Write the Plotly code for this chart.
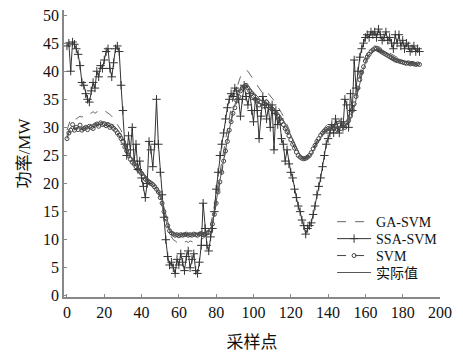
import plotly.graph_objects as go

x_vals = list(range(190))

actual = [
    28.5, 29.5, 30.0, 30.2, 30.0, 29.8, 30.0, 30.1, 29.9, 30.0,
    30.2, 30.0, 30.3, 30.5, 30.4, 30.6, 30.8, 30.7, 30.9, 31.0,
    31.0, 30.9, 30.8, 30.6, 30.5, 30.2, 30.0, 29.6, 29.2, 28.8,
    28.0, 27.2, 26.3, 25.5, 24.8, 24.2, 23.8, 23.3, 23.0, 22.6,
    22.2, 21.8, 21.3, 21.0, 20.7, 20.5, 20.3, 20.0, 19.5, 19.0,
    18.0, 17.0, 15.8, 14.5, 13.0, 12.0, 11.5, 11.2, 11.0, 11.0,
    10.9, 11.0, 10.9, 11.0, 11.1, 11.0, 10.9, 11.0, 11.0, 11.1,
    11.0, 11.0, 11.2, 11.0, 11.1, 11.3, 11.5, 12.0, 13.0, 15.0,
    17.0, 18.8, 20.6, 22.4, 24.2, 26.0, 28.0, 30.0, 31.5, 33.0,
    34.0, 35.0, 36.0, 36.8, 37.2, 37.5, 37.6, 37.4, 37.0, 36.6,
    36.2, 35.8, 35.5, 35.0, 34.8, 34.5, 34.8, 35.0, 34.6, 34.2,
    34.0, 33.6, 33.2, 32.8, 32.3, 31.8, 31.3, 30.7, 30.0, 29.3,
    28.6, 27.8, 27.0, 26.3, 25.6, 25.1, 24.8, 24.6, 24.5, 24.6,
    24.8, 25.2, 25.8, 26.5, 27.2, 27.8, 28.3, 28.8, 29.2, 29.5,
    29.8, 30.0, 30.0, 30.1, 30.0, 30.0, 30.1, 30.0, 30.2, 30.3,
    30.5, 31.0, 31.6, 32.5, 33.5, 35.0, 36.5, 38.0, 39.3, 40.5,
    41.5, 42.3, 42.9, 43.3, 43.6, 43.8, 43.9, 43.9, 43.8, 43.6,
    43.4, 43.2, 43.0, 42.8, 42.6, 42.4, 42.2, 42.0, 41.9, 41.8,
    41.7, 41.6, 41.5, 41.5, 41.4, 41.4, 41.4, 41.3, 41.3, 41.3,
]

ga_svm = [
    29.5, 30.5, 31.5, 31.8, 31.5, 31.5, 31.8, 32.0, 31.8, 32.0,
    32.2, 32.5, 32.3, 32.6, 32.8, 32.5, 32.8, 33.0, 32.8, 33.0,
    33.0, 32.8, 32.5, 32.3, 32.0, 31.5, 31.0, 30.5, 30.0, 29.5,
    28.5, 27.5, 26.5, 25.8, 25.0, 24.5, 24.0, 23.5, 23.0, 22.5,
    22.0, 21.5, 21.0, 20.6, 20.3, 20.0, 19.8, 19.5, 19.0, 18.3,
    17.2, 16.0, 14.8, 13.5, 12.0, 11.0, 10.5, 10.0, 9.8, 9.5,
    9.6, 9.5, 9.8, 9.6, 9.7, 9.5, 9.8, 9.6, 9.5, 9.8,
    9.7, 9.8, 10.0, 10.2, 10.5, 11.0, 11.5, 12.5, 14.0, 16.0,
    18.0, 20.0, 22.0, 24.0, 26.0, 28.0, 30.0, 32.0, 33.5, 35.0,
    36.0, 37.0, 38.0, 39.0, 39.5, 40.0, 40.2, 40.0, 39.5, 39.0,
    38.5, 38.0, 37.5, 37.0, 36.5, 36.0, 36.3, 36.5, 36.0, 35.5,
    35.2, 34.8, 34.3, 33.8, 33.2, 32.6, 32.0, 31.3, 30.5, 29.7,
    28.8, 27.9, 27.0, 26.2, 25.5, 25.0, 24.7, 24.5, 24.5, 24.7,
    25.0, 25.5, 26.2, 27.0, 27.8, 28.5, 29.0, 29.5, 30.0, 30.3,
    30.6, 30.8, 31.0, 31.0, 31.2, 31.0, 31.2, 31.3, 31.5, 31.8,
    32.0, 32.5, 33.2, 34.0, 35.0, 36.5, 38.0, 39.5, 40.8, 41.8,
    42.6, 43.3, 43.8, 44.2, 44.4, 44.5, 44.5, 44.4, 44.2, 44.0,
    43.8, 43.6, 43.4, 43.2, 43.0, 42.8, 42.6, 42.4, 42.2, 42.0,
    41.9, 41.8, 41.7, 41.6, 41.6, 41.5, 41.5, 41.5, 41.4, 41.4,
]

ssa_svm = [
    44.5, 45.0, 40.0, 45.2, 44.8, 44.0, 43.0, 41.0, 38.0, 37.5,
    36.0, 35.0, 34.5, 36.5, 38.0, 37.0, 40.0, 39.0, 41.0, 40.5,
    42.0, 43.5, 44.0, 40.5, 39.0, 41.5, 44.0, 44.5, 43.5, 37.5,
    33.0, 27.0, 25.0, 28.5, 26.0, 30.0, 24.0, 27.0, 22.5, 24.0,
    21.0, 19.5, 17.5, 20.0, 27.5, 26.0, 23.0, 27.0, 35.0, 27.0,
    22.0, 18.0, 14.0, 10.0, 7.0, 5.5, 6.0, 5.0, 4.0, 6.5,
    5.5, 7.5, 6.0, 4.5, 7.0, 8.0, 5.0, 6.5, 7.5, 4.5,
    4.0, 6.0, 9.0, 16.5, 12.0, 9.0, 8.0, 10.5, 12.0, 15.0,
    19.0, 22.0, 25.0, 27.0, 29.0, 31.5, 33.5, 35.0, 36.0, 35.5,
    37.0, 36.5, 35.0, 32.0, 35.0, 37.5, 35.5, 34.0, 36.0, 33.0,
    31.0, 35.0, 33.0, 28.0, 32.0, 35.5, 34.0, 31.5, 33.5, 30.0,
    34.0, 26.0, 33.0, 30.5, 31.5, 28.0, 27.0, 24.0, 26.0, 23.5,
    22.0, 21.0, 19.0, 17.5, 16.0, 15.0, 13.5, 12.5, 11.0, 12.0,
    12.5, 13.0, 14.5, 16.0, 18.0, 19.5, 21.0, 23.0, 25.0, 27.0,
    28.0, 29.0, 30.5, 29.0, 31.5, 30.0, 29.0, 31.0, 30.0, 35.0,
    34.0, 30.0, 36.0, 33.0, 42.0, 37.0, 40.0, 42.5, 44.0, 45.0,
    46.0, 46.5, 46.0, 47.0, 46.5, 47.0, 46.0, 47.5, 46.5, 45.5,
    46.0, 47.0, 45.5, 46.0, 45.0, 44.0, 46.5, 45.0, 46.5, 44.5,
    45.5, 44.0, 45.0, 44.5, 43.5, 44.0, 44.5, 43.5, 44.0, 43.5,
]

svm = [
    28.0, 29.0, 29.5, 30.5, 29.5, 30.0, 29.6, 30.4, 29.5, 29.8,
    30.0, 29.6, 30.2, 30.0, 29.8, 30.4, 30.6, 30.2, 30.8, 30.5,
    30.6, 30.3, 30.5, 30.0, 30.2, 29.8, 29.5, 29.0, 28.6, 28.0,
    27.5, 26.5, 25.8, 25.0, 24.3, 23.8, 23.5, 23.0, 22.5, 22.2,
    21.8, 21.2, 20.8, 20.5, 20.2, 20.0, 19.8, 19.4, 19.0, 18.5,
    17.5, 16.5, 15.0, 13.8, 12.5, 11.6, 11.2, 11.0, 10.8, 10.9,
    10.7, 10.9, 10.8, 10.9, 11.0, 10.8, 10.9, 10.8, 11.0, 10.9,
    10.8, 11.0, 11.1, 10.9, 11.0, 11.2, 11.3, 11.7, 12.8, 14.5,
    16.5, 18.5, 20.3, 22.0, 24.0, 25.8, 27.5, 29.5, 31.0, 32.5,
    33.5, 34.8, 35.5, 36.5, 37.0, 37.2, 37.5, 37.0, 36.5, 36.0,
    35.5, 35.0, 34.8, 34.0, 34.5, 33.8, 34.2, 34.5, 33.8, 33.5,
    33.2, 32.8, 32.5, 32.0, 31.5, 31.0, 30.5, 29.8, 29.2, 28.5,
    27.8, 27.0, 26.3, 25.6, 25.0, 24.7, 24.5, 24.4, 24.5, 24.7,
    25.0, 25.5, 26.2, 26.8, 27.5, 28.0, 28.6, 29.0, 29.3, 29.6,
    29.8, 29.7, 30.2, 29.8, 30.3, 29.6, 30.4, 29.8, 30.5, 30.0,
    30.8, 31.2, 32.0, 33.0, 34.2, 35.5, 37.0, 38.5, 39.8, 40.8,
    41.8, 42.5, 43.0, 43.5, 43.8, 44.0, 44.0, 43.8, 43.6, 43.4,
    43.2, 43.0, 42.8, 42.6, 42.4, 42.2, 42.0, 41.9, 41.8, 41.7,
    41.6, 41.5, 41.4, 41.5, 41.3, 41.4, 41.3, 41.2, 41.3, 41.2,
]

x_ticks = [0, 20, 40, 60, 80, 100, 120, 140, 160, 180, 200]
y_ticks = [0, 5, 10, 15, 20, 25, 30, 35, 40, 45, 50]

SERIF = "Liberation Serif"
MIXED = "Liberation Serif, Noto Sans CJK SC"

fig = go.Figure()
fig.add_trace(go.Scatter(
    x=x_vals, y=ga_svm, name="GA-SVM", mode="lines", legend="legend",
    line=dict(color="#666666", width=1, dash="dash"),
))
fig.add_trace(go.Scatter(
    x=x_vals, y=ssa_svm, name="SSA-SVM", mode="lines+markers", legend="legend2",
    line=dict(color="#333333", width=1),
    marker=dict(symbol="cross-thin-open", size=6, color="#333333",
                line=dict(color="#333333", width=1)),
))
fig.add_trace(go.Scatter(
    x=x_vals, y=svm, name="SVM", mode="lines+markers", legend="legend3",
    line=dict(color="#444444", width=1, dash="dash"),
    marker=dict(symbol="circle-open", size=4, color="#444444",
                line=dict(color="#444444", width=1)),
))
fig.add_trace(go.Scatter(
    x=x_vals, y=actual, name="实际值", mode="lines", legend="legend4",
    line=dict(color="#555555", width=1),
))


def leg(ypos):
    return dict(
        x=0.713, y=ypos, xanchor="left", yanchor="middle",
        bgcolor="rgba(0,0,0,0)", borderwidth=0,
        font=dict(family=MIXED, size=14, color="#111111"),
        itemwidth=34,
    )


# page body has an 8px default margin, so the figure is slightly smaller
fig.update_layout(
    width=455, height=346,
    margin=dict(l=56, r=23, t=2, b=57),
    paper_bgcolor="white", plot_bgcolor="white",
    font=dict(family=MIXED, size=16, color="#111111"),
    showlegend=True,
    legend=leg(0.261),
    legend2=leg(0.202),
    legend3=leg(0.143),
    legend4=leg(0.084),
    xaxis=dict(
        range=[-1.6, 200], tickvals=x_ticks, ticktext=[str(v) for v in x_ticks],
        showgrid=False, zeroline=False, showline=True, linecolor="#888888",
        linewidth=1.5, ticks="inside", ticklen=3, tickcolor="#888888",
        automargin=False, ticklabeloverflow="allow",
        title=dict(text="采样点", font=dict(family="Noto Sans CJK SC", size=17), standoff=16),
        tickfont=dict(family=SERIF, size=16),
    ),
    yaxis=dict(
        range=[-0.2, 50.9], tickvals=y_ticks, ticktext=[str(v) for v in y_ticks],
        showgrid=False, zeroline=False, showline=True, linecolor="#888888",
        linewidth=1.5, ticks="inside", ticklen=3, tickcolor="#888888",
        automargin=False, ticklabeloverflow="allow",
        title=dict(text="功率/MW", font=dict(family=MIXED, size=17), standoff=8),
        tickfont=dict(family=SERIF, size=16),
    ),
)

fig.write_html("out.html")
